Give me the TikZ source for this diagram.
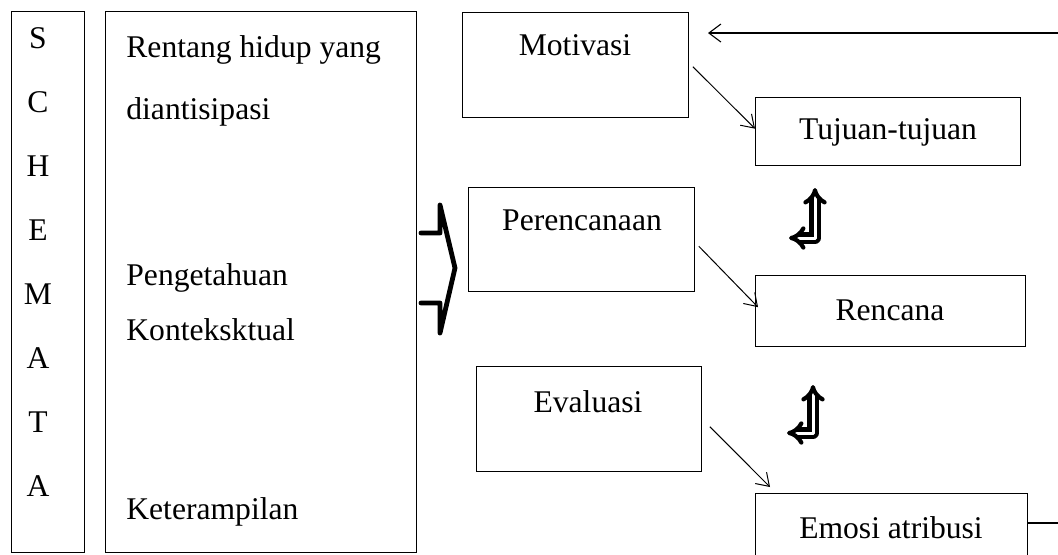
\documentclass[tikz,border=0pt]{standalone}
\usepackage{fontspec}
\setmainfont{Liberation Serif}
\usetikzlibrary{arrows.meta,calc}

\begin{document}
\begin{tikzpicture}[x=0.5pt,y=-0.5pt,
    font=\fontsize{15.8}{19}\selectfont,
    kotak/.style={draw,line width=0.65pt,anchor=north west,inner sep=0pt},
    teks/.style={inner sep=0pt},
    panah/.style={line width=0.5pt,-{Straight Barb[length=6pt,width=8pt]},shorten <=2.5pt},
    ganda/.style={double,line width=2.1pt,double distance=1.5pt,line join=round,
      {Implies[]}-{Implies[]}}]
    \useasboundingbox (0,0) rectangle (1058,554);
    \clip (0,0) rectangle (1058,554);
    \node[kotak,minimum width=36.5pt,minimum height=270.5pt] (schemata) at (11,11) {};
    \foreach \huruf [count=\i from 0] in {S,C,H,E,M,A,T,A}
      \node[teks] (h\i) at (38,{38+64*\i}) {\huruf};
    \node[kotak,minimum width=155.5pt,minimum height=270.5pt] (skema) at (105,11) {};
    \node[teks,anchor=west] (rentang) at (126,50) {Rentang hidup yang};
    \node[teks,anchor=west] (antisipasi) at (126,112) {diantisipasi};
    \node[teks,anchor=west] (tahu) at (126,278) {Pengetahuan};
    \node[teks,anchor=west] (konteks) at (126,330) {Konteksktual};
    \node[teks,anchor=west] (terampil) at (126,512) {Keterampilan};

    \node[kotak,minimum width=113pt,minimum height=52.5pt] (motivasi) at (462,12) {};
    \node[teks] (tmotivasi) at (575,45) {Motivasi};
    \node[kotak,minimum width=113pt,minimum height=52pt] (perencanaan) at (468,187) {};
    \node[teks] (tperencanaan) at (582,220) {Perencanaan};
    \node[kotak,minimum width=112.5pt,minimum height=52.5pt] (evaluasi) at (476,366) {};
    \node[teks] (tevaluasi) at (588,402) {Evaluasi};

    \node[kotak,minimum width=132.5pt,minimum height=34pt] (tujuan) at (755,97) {};
    \node[teks] (ttujuan) at (888,132) {Tujuan-tujuan};
    \node[kotak,minimum width=135pt,minimum height=35.5pt] (rencana) at (755,275) {};
    \node[teks] (trencana) at (890,310) {Rencana};
    \node[kotak,minimum width=136pt,minimum height=50pt] (emosi) at (755,493) {};
    \node[teks] (temosi) at (891,528) {Emosi atribusi};

    \draw[panah] ($(motivasi.east)+(0,-2)$) -- ($(tujuan.west)+(0,-3)$);
    \draw[panah] ($(perencanaan.east)+(0,3)$) -- ($(rencana.west)+(3,-4)$);
    \draw[panah] ($(evaluasi.east)+(4,4)$) -- ($(emosi.north west)+(15,-6)$);

    \coordinate (balik) at (708,33);
    \draw[line width=0.55pt,-{Straight Barb[length=6pt,width=9pt]}]
      (emosi.east |- 0,523) -- ++(50,0) |- (balik);

    \draw[line width=2.4pt,line join=round,line cap=round]
      (421,233) -- (440,233) -- (440,205) -- (455,268)
      -- (440,333) -- (440,303) -- (421,303);

    \draw[ganda] (815,188) |- (789,238);
    \draw[ganda] (813,385) |- (787,433);
\end{tikzpicture}
\end{document}
